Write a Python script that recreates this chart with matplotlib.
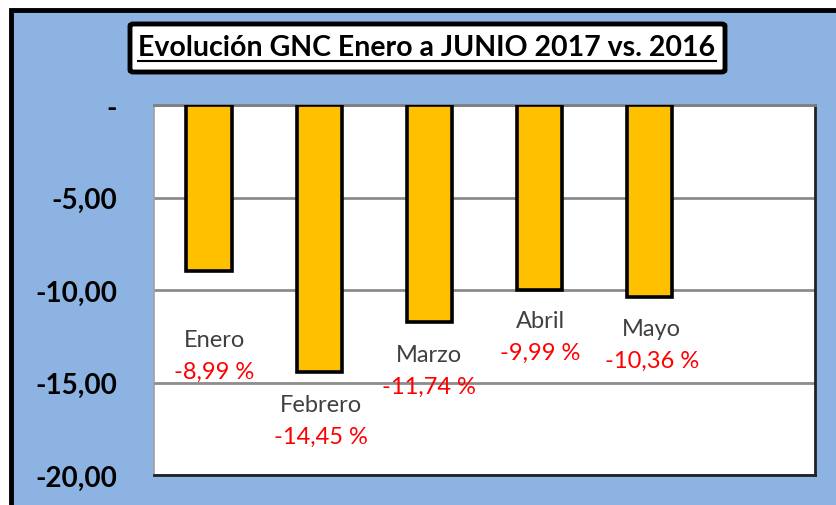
import matplotlib
matplotlib.use("Agg")
import matplotlib.pyplot as plt
from matplotlib.patches import Rectangle, FancyBboxPatch
from matplotlib.lines import Line2D
import numpy as np

categories = ["Enero", "Febrero", "Marzo", "Abril", "Mayo", "Junio"]
values = [-8.99, -14.45, -11.74, -9.99, -10.36, None]
pct_labels = ["-8,99 %", "-14,45 %", "-11,74 %", "-9,99 %", "-10,36 %", ""]
yticks = [0, -5, -10, -15, -20]
ytick_labels = ["-", "-5,00", "-10,00", "-15,00", "-20,00"]
title = "Evolución GNC Enero a JUNIO 2017 vs. 2016"

W, H = 836, 506
fig = plt.figure(figsize=(W / 100, H / 100), dpi=100)
fig.patch.set_facecolor("white")

# outer chart area (extends beyond the right/bottom edges)
fig.patches.append(Rectangle((10.5 / W, -0.1), 1.2, 1 - 10.5 / H + 0.1,
                             transform=fig.transFigure, facecolor="#8DB3E2",
                             edgecolor="black", linewidth=3.5, zorder=-5))

def fx(px):
    return px / W

def fy(py):
    return 1 - py / H

ax = fig.add_axes([fx(154), fy(476), fx(815) - fx(154), fy(106) - fy(476)])
ax.set_zorder(2)
ax.set_facecolor("white")
ax.set_xlim(-0.5, len(categories) - 0.5)
ax.set_ylim(-20, 0)

for t in yticks:
    ax.axhline(t, color="#8C8C8C", linewidth=2.0, zorder=1)

x = np.arange(len(categories))
vals = [v if v is not None else 0 for v in values]
ax.bar(x[:5], vals[:5], width=0.41, color="#FFC000", edgecolor="black",
       linewidth=2.6, zorder=3)

ax.set_yticks(yticks)
ax.set_yticklabels(ytick_labels, fontsize=20, fontweight="bold", family="Lato")
ax.tick_params(axis="y", length=0, pad=26.5)
ax.set_xticks([])

ax.spines["left"].set_color("#A0A0A0")
ax.spines["left"].set_linewidth(1.2)
ax.spines["top"].set_color("#7F7F7F")
ax.spines["top"].set_linewidth(2.0)
ax.spines["right"].set_color("#222222")
ax.spines["right"].set_linewidth(2.0)
ax.spines["bottom"].set_color("#222222")
ax.spines["bottom"].set_linewidth(2.0)

name_offsets = [68, 32, 32, 31, 32]   # px below bar end
x_shifts = [5, 2, 0, 1, 2]
for i in range(5):
    off = name_offsets[i] * 0.72
    ax.annotate(categories[i], xy=(x[i], values[i]), xytext=(x_shifts[i] * 0.72, -off),
                textcoords="offset points", ha="center", va="center",
                fontsize=17, color="#404040", family="Lato", zorder=5)
    ax.annotate(pct_labels[i], xy=(x[i], values[i]), xytext=(x_shifts[i] * 0.72, -off - 32 * 0.72),
                textcoords="offset points", ha="center", va="center",
                fontsize=17, color="#FF0000", family="Lato", zorder=5)

# title box
box = FancyBboxPatch((fx(130), fy(73)), fx(725) - fx(130), fy(25) - fy(73),
                     boxstyle="round,pad=0,rounding_size=0.004",
                     transform=fig.transFigure, facecolor="white",
                     edgecolor="black", linewidth=3.5, zorder=3)
fig.patches.append(box)
t = fig.text(fx(427), fy(48), title, ha="center", va="center", fontsize=20.5,
             fontweight="bold", family="Lato", color="black", zorder=4)

fig.canvas.draw()
bb = t.get_window_extent()
uy = bb.y0 - 1
fig.lines.append(Line2D([bb.x0 / W, bb.x1 / W], [uy / H, uy / H], transform=fig.transFigure,
                        color="black", linewidth=1.5, zorder=5))

fig.savefig("out.png", dpi=100)
